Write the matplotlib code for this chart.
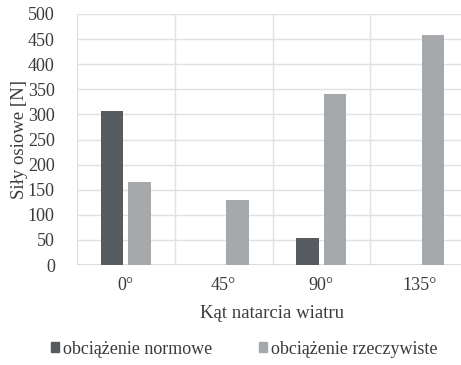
import matplotlib.pyplot as plt
import numpy as np
from matplotlib.patches import Patch

plt.rcParams['font.family'] = ['Liberation Serif', 'DejaVu Serif']

categories = ['0°', '45°', '90°', '135°']
normowe = [307, 0, 53, 0]
rzeczywiste = [166, 129, 340, 458]
yticks = [0, 50, 100, 150, 200, 250, 300, 350, 400, 450, 500]

c_dark = '#555b5e'
c_light = '#a6a9ab'
c_text = '#3a3a3a'
c_grid = '#e2e0e0'

fig = plt.figure(figsize=(4.61, 3.65), dpi=100)
ax = fig.add_axes([77 / 461, 1 - 265 / 365, (468 - 77) / 461, (265 - 14) / 365])

x = np.arange(len(categories))
w = 0.23
ax.bar(x - 0.14, normowe, w, color=c_dark, zorder=3)
ax.bar(x + 0.14, rzeczywiste, w, color=c_light, zorder=3)

ax.set_xlim(-0.5, len(categories) - 0.5)
ax.set_ylim(0, 500)
ax.set_yticks(yticks)
ax.set_xticks(x)
ax.set_xticklabels(categories)
for b in np.arange(-0.5, len(categories), 1):
    ax.axvline(b, color=c_grid, lw=1, zorder=1)
ax.yaxis.grid(True, color=c_grid, lw=1, zorder=1)
ax.set_axisbelow(True)
for s in ax.spines.values():
    s.set_visible(False)
ax.axhline(0, color='#d8d6d6', lw=1.2, zorder=2)
ax.tick_params(length=0, labelsize=13, labelcolor=c_text)
ax.tick_params(axis='y', pad=16)
ax.tick_params(axis='x', pad=9)

ax.set_ylabel('Siły osiowe [N]', fontsize=13.5, color=c_text, labelpad=0)
fig.text(272 / 461, 1 - 313 / 365, 'Kąt natarcia wiatru', ha='center', va='center',
         fontsize=13.5, color=c_text)

handles = [Patch(color=c_dark), Patch(color=c_light)]
fig.legend(handles, ['obciążenie normowe', 'obciążenie rzeczywiste'],
           loc='center', bbox_to_anchor=(244 / 461, 1 - 349 / 365), ncol=2,
           frameon=False, fontsize=13, handlelength=0.45, handleheight=0.45,
           handletextpad=0.2, columnspacing=2.6, labelcolor=c_text)

fig.savefig('out.png', dpi=100, facecolor='white')
